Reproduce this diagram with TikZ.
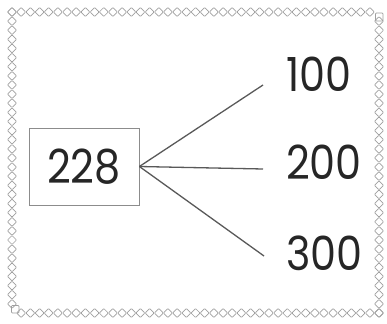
\documentclass[tikz,border=0pt]{standalone}
\usepackage{fontspec}
\setmainfont{Poppins}
\newfontfamily\numfont[FakeStretch=0.88]{Poppins}
\tikzset{
  gem/.style={draw=gray!75, line width=0.7pt, rounded corners=0.8pt},
  spoke/.style={draw=black!65, line width=1.3pt},
  num/.style={font=\numfont\fontsize{47}{47}\selectfont, text=black!85, inner sep=0pt},
}
\begin{document}
\begin{tikzpicture}[x=1pt, y=-1pt]
  \useasboundingbox (0,0) rectangle (387,323);
  % border chain
  \foreach \i in {0,...,39} {
    \draw[gem] (12+\i*9.175,12) ++(-4.5,0) -- ++(4.5,-4.5) -- ++(4.5,4.5) -- ++(-4.5,4.5) -- cycle;
  }
  \foreach \i in {1,...,40} {
    \draw[gem] (12+\i*9.175,313) ++(-4.5,0) -- ++(4.5,-4.5) -- ++(4.5,4.5) -- ++(-4.5,4.5) -- cycle;
  }
  \foreach \j in {0,...,32} {
    \draw[gem] (12,12+\j*9.12) ++(-4.5,0) -- ++(4.5,-4.5) -- ++(4.5,4.5) -- ++(-4.5,4.5) -- cycle;
  }
  \foreach \j in {1,...,33} {
    \draw[gem] (379,12+\j*9.12) ++(-4.5,0) -- ++(4.5,-4.5) -- ++(4.5,4.5) -- ++(-4.5,4.5) -- cycle;
  }
  \draw[gem] (375.5,13) rectangle (383,21);
  \draw[gem] (11.5,305.5) rectangle (19,313);

  % total and its parts
  \node[num, draw=black!45, line width=0.8pt, minimum width=110pt, minimum height=77pt] (hub) at (84,166.5) {228};
  \node[num, anchor=west] (p100) at (286,74) {100};
  \node[num, anchor=west] (p200) at (286,162) {200};
  \node[num, anchor=west] (p300) at (286,253) {300};

  \coordinate (e100) at (263,85);
  \coordinate (e200) at (263,169);
  \coordinate (e300) at (264,256);

  \draw[spoke] (hub.east) -- (e100);
  \draw[spoke] (hub.east) -- (e200);
  \draw[spoke] (hub.east) -- (e300);
\end{tikzpicture}
\end{document}
